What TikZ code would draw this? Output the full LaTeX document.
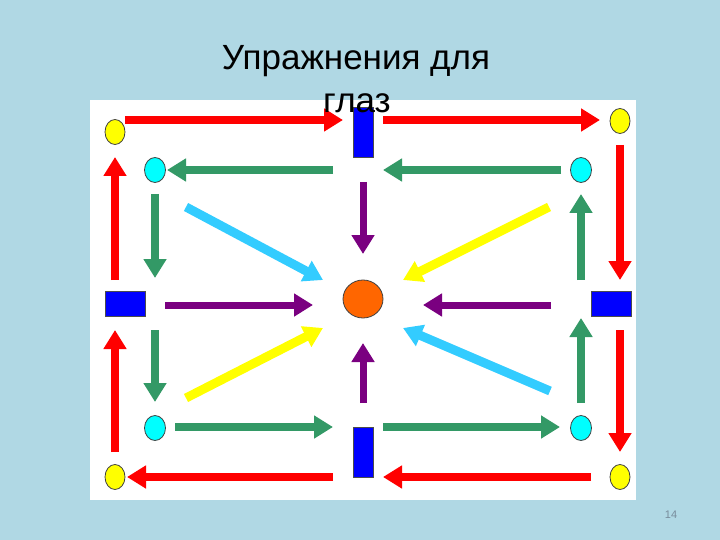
\documentclass[tikz,border=0pt]{standalone}
\usepackage{fontspec}
\setmainfont{Liberation Sans}
\usetikzlibrary{arrows.meta,shapes.geometric}
\definecolor{bgblue}{RGB}{176,216,228}
\definecolor{arrred}{RGB}{255,0,0}
\definecolor{arrgreen}{RGB}{51,153,102}
\definecolor{arrpurple}{RGB}{122,0,128}
\definecolor{arrcyan}{RGB}{51,204,255}
\definecolor{arryellow}{RGB}{255,255,0}
\definecolor{boxblue}{RGB}{0,0,255}
\definecolor{ballorange}{RGB}{255,102,0}
\definecolor{dotcyan}{RGB}{0,255,255}
\definecolor{pagegray}{RGB}{120,140,155}
\begin{document}
\begin{tikzpicture}[x=1pt,y=-1pt,
  dotyellow/.style={ellipse, draw=black!75, line width=0.8pt, fill=arryellow, minimum width=20pt, minimum height=25pt, inner sep=0pt},
  dotcyanst/.style={ellipse, draw=black!75, line width=0.8pt, fill=dotcyan, minimum width=21pt, minimum height=25pt, inner sep=0pt},
  vbox/.style={rectangle, draw=black!70, line width=0.6pt, fill=boxblue, minimum width=20pt, minimum height=50pt, inner sep=0pt},
  hbox/.style={rectangle, draw=black!70, line width=0.6pt, fill=boxblue, minimum width=40pt, minimum height=25pt, inner sep=0pt},
  ball/.style={ellipse, draw=black!75, line width=0.8pt, fill=ballorange, minimum width=40pt, minimum height=38pt, inner sep=0pt},
  fatarrow/.style={line width=8pt, -{Triangle[length=19pt,width=22pt]}},
  redarr/.style={fatarrow, arrred},
  greenarr/.style={fatarrow, arrgreen},
  purplearr/.style={fatarrow, arrpurple, line width=7pt},
  cyanarr/.style={fatarrow, arrcyan, line width=9pt},
  yellowarr/.style={fatarrow, arryellow, line width=9pt},
  titletext/.style={font=\fontsize{35}{42}\selectfont, text=black, inner sep=0pt, anchor=base}
]
\useasboundingbox (0,0) rectangle (720,540);
\fill[bgblue] (0,0) rectangle (720,540);
\fill[white] (90,100) rectangle (636,500);

% nodes
\node[dotyellow] (yTL) at (115,132) {};
\node[dotyellow] (yTR) at (620,121) {};
\node[dotyellow] (yBL) at (115,477) {};
\node[dotyellow] (yBR) at (620,477) {};
\node[dotcyanst] (cTL) at (155,170) {};
\node[dotcyanst] (cTR) at (581,170) {};
\node[dotcyanst] (cBL) at (155,428) {};
\node[dotcyanst] (cBR) at (581,428) {};
\node[vbox] (bT) at (363,132) {};
\node[vbox] (bB) at (363,452) {};
\node[hbox] (bL) at (125,304) {};
\node[hbox] (bR) at (611,304) {};
\node[ball] (ctr) at (363,299) {};

% arrow end points
\coordinate (r1s) at (125,120); \coordinate (r1e) at (343,120);
\coordinate (r2s) at (383,120); \coordinate (r2e) at (600,120);
\coordinate (r3s) at (620,145); \coordinate (r3e) at (620,280);
\coordinate (r4s) at (620,330); \coordinate (r4e) at (620,452);
\coordinate (r5s) at (591,477); \coordinate (r5e) at (383,477);
\coordinate (r6s) at (333,477); \coordinate (r6e) at (127,477);
\coordinate (r7s) at (115,452); \coordinate (r7e) at (115,330);
\coordinate (r8s) at (115,280); \coordinate (r8e) at (115,157);

\coordinate (g1s) at (333,170); \coordinate (g1e) at (167,170);
\coordinate (g2s) at (561,170); \coordinate (g2e) at (383,170);
\coordinate (g3s) at (155,194); \coordinate (g3e) at (155,278);
\coordinate (g4s) at (155,330); \coordinate (g4e) at (155,402);
\coordinate (g5s) at (175,427); \coordinate (g5e) at (333,427);
\coordinate (g6s) at (383,427); \coordinate (g6e) at (560,427);
\coordinate (g7s) at (581,403); \coordinate (g7e) at (581,318);
\coordinate (g8s) at (581,280); \coordinate (g8e) at (581,194);

\coordinate (p1s) at (363,182); \coordinate (p1e) at (363,254);
\coordinate (p2s) at (165,305); \coordinate (p2e) at (313,305);
\coordinate (p3s) at (551,305); \coordinate (p3e) at (423,305);
\coordinate (p4s) at (363,403); \coordinate (p4e) at (363,343);

\coordinate (c1s) at (186,207); \coordinate (c1e) at (323,280);
\coordinate (c2s) at (550,391); \coordinate (c2e) at (403,328);
\coordinate (y1s) at (549,207); \coordinate (y1e) at (403,280);
\coordinate (y2s) at (186,398); \coordinate (y2e) at (323,328);

% arrows
\draw[redarr] (r1s) -- (r1e);
\draw[redarr] (r2s) -- (r2e);
\draw[redarr] (r3s) -- (r3e);
\draw[redarr] (r4s) -- (r4e);
\draw[redarr] (r5s) -- (r5e);
\draw[redarr] (r6s) -- (r6e);
\draw[redarr] (r7s) -- (r7e);
\draw[redarr] (r8s) -- (r8e);

\draw[greenarr] (g1s) -- (g1e);
\draw[greenarr] (g2s) -- (g2e);
\draw[greenarr] (g3s) -- (g3e);
\draw[greenarr] (g4s) -- (g4e);
\draw[greenarr] (g5s) -- (g5e);
\draw[greenarr] (g6s) -- (g6e);
\draw[greenarr] (g7s) -- (g7e);
\draw[greenarr] (g8s) -- (g8e);

\draw[purplearr] (p1s) -- (p1e);
\draw[purplearr] (p2s) -- (p2e);
\draw[purplearr] (p3s) -- (p3e);
\draw[purplearr] (p4s) -- (p4e);

\draw[cyanarr] (c1s) -- (c1e);
\draw[cyanarr] (c2s) -- (c2e);
\draw[yellowarr] (y1s) -- (y1e);
\draw[yellowarr] (y2s) -- (y2e);

% title and page number
\node[titletext] (title1) at (356,70) {Упражнения для};
\node[titletext] (title2) at (357,113) {глаз};
\node[font=\fontsize{11}{13}\selectfont, text=pagegray, inner sep=0pt] (pagenum) at (671,515) {14};
\end{tikzpicture}
\end{document}
